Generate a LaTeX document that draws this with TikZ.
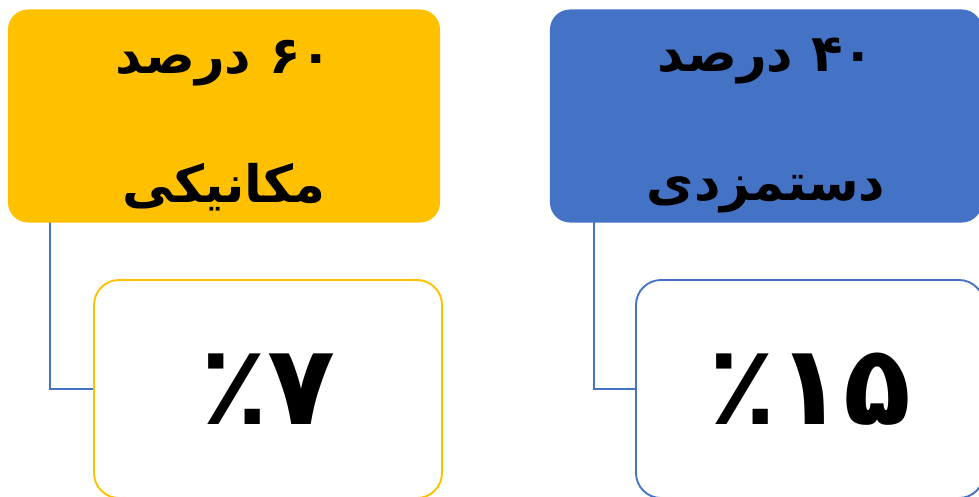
\documentclass[tikz,border=0pt]{standalone}
\usepackage{fontspec}
\newfontfamily\arabicfont[Script=Arabic]{DejaVu Sans}
\TeXXeTstate=1
\definecolor{gelb}{HTML}{FFC000}
\definecolor{blau}{HTML}{4472C4}
\def\stuetze{\rule{0pt}{45pt}}
\begin{document}
\begin{tikzpicture}[x=0.03cm,y=-0.03cm,line width=1.6pt,
  kopf/.style={rounded corners=0.6cm,inner sep=0pt,align=center,
    minimum width=12.96cm,minimum height=6.39cm,
    font=\arabicfont\bfseries\fontsize{44}{110}\selectfont},
  wert/.style={rounded corners=0.75cm,fill=white,inner sep=0pt,
    minimum width=10.44cm,minimum height=6.54cm,
    font=\arabicfont\bfseries\fontsize{95}{110}\selectfont}]
\useasboundingbox (0,0) rectangle (979,496);
\coordinate (k1) at (224,116);
\coordinate (k2) at (766,116);
\coordinate (w1) at (268,389);
\coordinate (w2) at (810,389);
\coordinate (ast1) at (50,222);
\coordinate (ast2) at (594,222);
\draw[blau] (ast1) |- (w1);
\draw[blau] (ast2) |- (w2);
\node[kopf,fill=gelb] (mechanik) at (k1)
  {\stuetze\beginR\beginL ۶۰\endL{} درصد\endR\\\beginR مکانیکی\endR};
\node[kopf,fill=blau] (lohn) at (k2)
  {\stuetze\beginR\beginL ۴۰\endL{} درصد\endR\\\beginR دستمزدی\endR};
\node[wert,draw=gelb] (wert1) at (w1) {\beginR\beginL ۷\endL ٪\endR};
\node[wert,draw=blau] (wert2) at (w2) {\beginR\beginL ۱۵\endL ٪\endR};
\end{tikzpicture}
\end{document}
